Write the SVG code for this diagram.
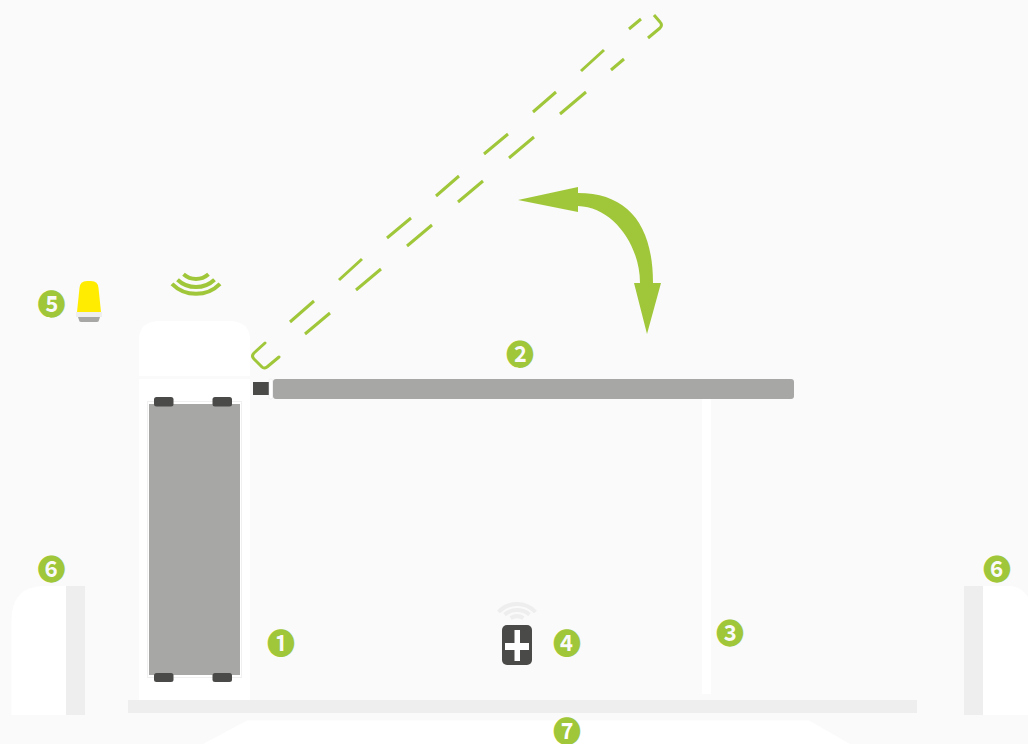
<svg xmlns="http://www.w3.org/2000/svg" width="1028" height="744" viewBox="0 0 1028 744">
<style>
.n{font-family:"Noto Sans CJK SC",sans-serif;font-size:28px;font-weight:bold;fill:#a0c739;text-anchor:middle}
.w{fill:#fff}.l{fill:#eee}.g{fill:#a7a7a5}.d{fill:#4a4a49}
.dash{fill:none;stroke:#a0c739;stroke-width:3;stroke-linecap:butt;stroke-linejoin:round}
.wave{fill:none;stroke-width:4}
</style>
<rect width="1028" height="744" fill="#fafafa"/>
<g id="ground">
<path class="w" d="M203 744L247 720.500H809L850 744Z"/>
<rect class="l" x="128" y="700" width="789" height="13"/>
</g>
<g id="post-left">
<path class="w" d="M11.500 715V620Q11.500 586 45 586H66V715Z"/>
<rect class="l" x="66" y="586" width="19" height="129"/>
</g>
<g id="post-right">
<path class="w" d="M1028 715V597Q1020 586 1010 586H983V715Z"/>
<rect class="l" x="964" y="586" width="19" height="129"/>
</g>
<g id="cabinet">
<path class="w" d="M139 700V340Q139 321 160 321H229Q250 321 250 340V700Z"/>
<rect x="139" y="376" width="111" height="3" fill="#fafafa"/>
<rect x="147.500" y="401.500" width="94" height="276" fill="#fff" stroke="#f0f0f0" stroke-width="1"/>
<rect class="g" x="149" y="404" width="91" height="271"/>
<rect class="d" x="154" y="397" width="19.500" height="9.500" rx="2.500"/>
<rect class="d" x="212.500" y="397" width="19.500" height="9.500" rx="2.500"/>
<rect class="d" x="154" y="673" width="19.500" height="9" rx="2.500"/>
<rect class="d" x="212.500" y="673" width="19.500" height="9" rx="2.500"/>
</g>
<g id="signal-top">
<path class="wave" stroke="#a0c739" d="M172 283.800A33.800 33.800 0 0 0 220 283.800M177.500 279.700A27 27 0 0 0 214.500 279.700M183.500 274.300A19 19 0 0 0 208.500 274.300"/>
</g>
<g id="lamp">
<path fill="#ffec00" d="M77 312L79.500 288Q80 281 87 281H91Q98 281 98.500 288L101 312Z"/>
<rect class="l" x="76" y="312" width="26" height="5"/>
<path class="g" d="M78 317H100L99 320Q99 322 97 322H81Q79 322 79 320Z"/>
</g>
<g id="barrier">
<rect class="d" x="253" y="382" width="16" height="13"/>
<rect x="269" y="379" width="3.500" height="20" rx="1.500" fill="#fff" stroke="#e4e4e4" stroke-width="0.500"/>
<rect class="g" x="273" y="379" width="521" height="20" rx="3"/>
</g>
<rect id="support" class="w" x="702" y="399" width="9" height="295"/>
<g id="remote">
<path class="wave" stroke="#eee" stroke-width="3" d="M498.500 612A25.400 25.400 0 0 1 535.500 612M504.500 614.600A19.400 19.400 0 0 1 529.500 614.600M510.500 618A13 13 0 0 1 523.500 618"/>
<rect class="d" x="502" y="625" width="30" height="40" rx="5"/>
<path fill="#fff" d="M514.500 630H520V643H529V650H520V661H514.500V650H505V643H514.500Z"/>
</g>
<g id="connectors">
<g id="arm-outline" class="dash">
<path stroke-linecap="round" d="M265 343L254 353Q251 356 254 359L262 367Q264 369 267 367L279 357"/>
<path d="M290 322L314 301M339 280L362 259M387 238L411 218M436 196L459 176M484 154L508 134M533 112L556 92M581 71L604 50M629 29L641 19"/>
<path d="M305 334L330 313M356 290L381 269M407 246L432 225M458 202L483 181M509 158L534 137M560 114L586 92M611 70L624 59M648 38L660 28Q663 25 660 22L654 15"/>
</g>
<path id="swing-arrow" fill="#a0c739" d="M518 200L578 187V193C628 193 653 225 653 283H661L647 334L634 283H640C640 245 613 207 578 206V212Z"/>
</g>
<g id="labels">
<text class="n" x="281" y="653.500">❶</text>
<text class="n" x="520" y="364.500">❷</text>
<text class="n" x="730" y="643.500">❸</text>
<text class="n" x="567" y="653.500">❹</text>
<text class="n" x="51.500" y="314.500">❺</text>
<text class="n" x="51.500" y="579.500">❻</text>
<text class="n" x="997" y="579.500">❻</text>
<text class="n" x="567" y="741.500">❼</text>
</g>
</svg>
